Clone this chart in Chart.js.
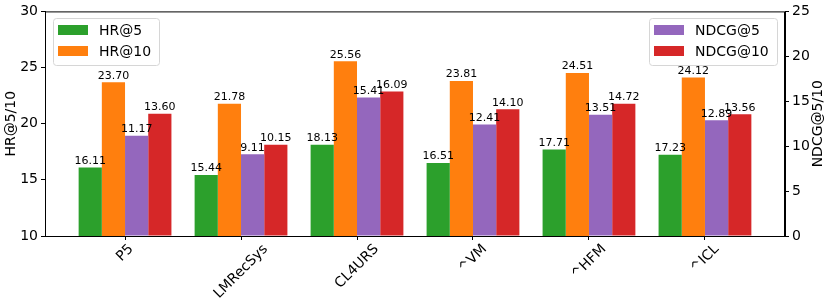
<!DOCTYPE html>
<html lang="en">
<head>
  <meta charset="UTF-8" />
  <title>HR / NDCG comparison</title>
  <script src="https://cdn.jsdelivr.net/npm/chart.js"></script>
  <style>
    html, body { margin: 0; padding: 0; background: #fff; }
    #wrap { width: 831px; height: 308px; }
  </style>
</head>
<body>
  <div id="wrap"><canvas id="chart" width="831" height="308"></canvas></div>

  <script>
    // data
    const categories = ['P5', 'LMRecSys', 'CL4URS', '^VM', '^HFM', '^ICL'];
    const hr5 = [16.11, 15.44, 18.13, 16.51, 17.71, 17.23];
    const hr10 = [23.70, 21.78, 25.56, 23.81, 24.51, 24.12];
    const ndcg5 = [11.17, 9.11, 15.41, 12.41, 13.51, 12.89];
    const ndcg10 = [13.60, 10.15, 16.09, 14.10, 14.72, 13.56];
    const hrTicks = [10, 15, 20, 25, 30];
    const ndcgTicks = [0, 5, 10, 15, 20, 25];

    const FONT = 'DejaVu Sans';
    const toPoints = arr => arr.map((v, i) => ({ x: i, y: v }));

    const series = [
      { label: 'HR@5', data: hr5, color: '#2ca02c', axis: 'y' },
      { label: 'HR@10', data: hr10, color: '#ff7f0e', axis: 'y' },
      { label: 'NDCG@5', data: ndcg5, color: '#9467bd', axis: 'y1' },
      { label: 'NDCG@10', data: ndcg10, color: '#d62728', axis: 'y1' }
    ];

    // value labels above each bar
    const barLabels = {
      id: 'barLabels',
      afterDatasetsDraw(chart) {
        const ctx = chart.ctx;
        ctx.save();
        ctx.font = '11px "' + FONT + '"';
        ctx.fillStyle = '#000';
        ctx.textAlign = 'center';
        ctx.textBaseline = 'bottom';
        chart.data.datasets.forEach((ds, di) => {
          chart.getDatasetMeta(di).data.forEach((bar, i) => {
            ctx.fillText(ds.data[i].y.toFixed(2), bar.x, bar.y - 1);
          });
        });
        ctx.restore();
      }
    };

    // frame, rotated category labels, right axis title and the two legends
    const extras = {
      id: 'extras',
      afterDraw(chart) {
        const ctx = chart.ctx;
        const a = chart.chartArea;
        ctx.save();
        ctx.strokeStyle = '#000';
        ctx.lineWidth = 1;
        ctx.strokeRect(a.left + 0.5, a.top + 0.5, a.right - a.left - 1, a.bottom - a.top);

        // x labels, rotated 45 deg and centred on the tick
        const xs = chart.scales.x;
        ctx.font = '14px "' + FONT + '"';
        ctx.fillStyle = '#000';
        ctx.textAlign = 'center';
        ctx.textBaseline = 'middle';
        categories.forEach((c, i) => {
          const px = xs.getPixelForValue(i);
          const w = ctx.measureText(c).width;
          const cy = a.bottom + 6 + (w + 14) * Math.SQRT1_2 / 2;
          ctx.save();
          ctx.translate(px, cy);
          ctx.rotate(-Math.PI / 4);
          ctx.fillText(c, 0, 0);
          ctx.restore();
        });

        // right axis title reads bottom to top, like the left one
        ctx.save();
        ctx.translate(818, (a.top + a.bottom) / 2);
        ctx.rotate(-Math.PI / 2);
        ctx.fillText('NDCG@5/10', 0, 0);
        ctx.restore();

        drawLegend(ctx, 53, 18, 106, series.slice(0, 2));
        drawLegend(ctx, 649, 18, 128, series.slice(2));
        ctx.restore();
      }
    };

    function drawLegend(ctx, x, y, w, items) {
      const h = 47;
      ctx.save();
      ctx.beginPath();
      ctx.roundRect(x + 0.5, y + 0.5, w, h, 3);
      ctx.fillStyle = 'rgba(255,255,255,0.8)';
      ctx.fill();
      ctx.strokeStyle = '#d6d6d6';
      ctx.lineWidth = 1;
      ctx.stroke();
      ctx.font = '14px "' + FONT + '"';
      ctx.textAlign = 'left';
      ctx.textBaseline = 'middle';
      items.forEach((s, i) => {
        const cy = y + 12 + i * 21;
        ctx.fillStyle = s.color;
        ctx.fillRect(x + 5, cy - 5, 30, 10);
        ctx.fillStyle = '#000';
        ctx.fillText(s.label, x + 46, cy + 1);
      });
      ctx.restore();
    }

    const tickFont = { family: FONT, size: 14 };

    new Chart(document.getElementById('chart'), {
      type: 'bar',
      data: {
        datasets: series.map(s => ({
          label: s.label,
          data: toPoints(s.data),
          backgroundColor: s.color,
          borderWidth: 0,
          yAxisID: s.axis,
          categoryPercentage: 0.8,
          barPercentage: 1
        }))
      },
      options: {
        responsive: false,
        animation: false,
        layout: { padding: { top: 10, left: 0, right: 0, bottom: 0 } },
        plugins: {
          legend: { display: false },
          tooltip: { enabled: false }
        },
        scales: {
          x: {
            type: 'linear',
            offset: false,
            min: -0.69,
            max: 5.69,
            afterBuildTicks: s => { s.ticks = categories.map((c, i) => ({ value: i })); },
            afterFit: s => { s.height = 72; },
            ticks: { display: false },
            grid: { display: true, offset: false, drawOnChartArea: false, drawTicks: true, tickLength: 4, color: '#000' },
            border: { display: true, color: '#000' }
          },
          y: {
            position: 'left',
            min: 10,
            max: 30,
            afterBuildTicks: s => { s.ticks = hrTicks.map(v => ({ value: v })); },
            afterFit: s => { s.width = 45; },
            ticks: { font: tickFont, color: '#000', padding: 3 },
            grid: { drawOnChartArea: false, tickLength: 4, color: '#000' },
            border: { color: '#000' },
            title: { display: true, text: 'HR@5/10', font: tickFont, color: '#000', padding: { top: 3, bottom: 0 } }
          },
          y1: {
            position: 'right',
            min: 0,
            max: 25,
            afterBuildTicks: s => { s.ticks = ndcgTicks.map(v => ({ value: v })); },
            afterFit: s => { s.width = 46; },
            ticks: { font: tickFont, color: '#000', padding: 3 },
            grid: { drawOnChartArea: false, tickLength: 4, color: '#000' },
            border: { color: '#000' }
          }
        }
      },
      plugins: [barLabels, extras]
    });
  </script>
</body>
</html>
